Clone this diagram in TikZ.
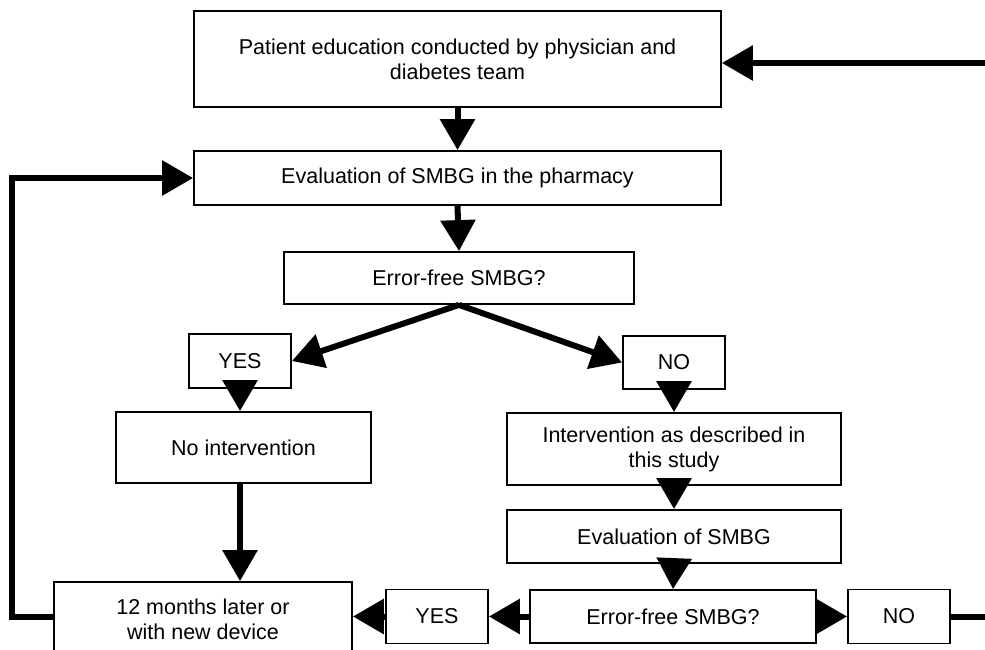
\documentclass[tikz,border=0pt]{standalone}
\usepackage{fontspec}
\setmainfont{Liberation Sans}
\usetikzlibrary{arrows.meta}
\tikzstyle{stepbox} = [rectangle, draw, fill=white, line width=1.8pt, inner sep=0pt, align=center, font=\fontsize{21.5}{25}\selectfont]
\tikzstyle{flow} = [->, line width=6pt]

\begin{document}
\begin{tikzpicture}[x=1pt,y=-1pt,>={Triangle[length=31pt,width=34pt]}]
  \path[use as bounding box, clip] (0,0) rectangle (985,650);

  \node[stepbox, minimum width=527pt, minimum height=96pt] (educ) at (457.5,59) {Patient education conducted by physician and\\diabetes team};
  \node[stepbox, minimum width=527pt, minimum height=54pt] (pharm) at (457.5,178) {Evaluation of SMBG in the pharmacy};
  \node[stepbox, minimum width=350pt, minimum height=52pt] (err1) at (459,278) {Error-free SMBG?};
  \node[stepbox, minimum width=102pt, minimum height=54pt] (yes1) at (240,361) {YES};
  \node[stepbox, minimum width=102pt, minimum height=53pt] (no1) at (674,362.5) {NO};
  \node[stepbox, minimum width=255pt, minimum height=71pt] (noint) at (243.5,447.5) {No intervention};
  \node[stepbox, minimum width=334pt, minimum height=72pt] (interv) at (674,449) {Intervention as described in\\this study};
  \node[stepbox, minimum width=334pt, minimum height=53pt] (eval) at (674,536.5) {Evaluation of SMBG};
  \node[stepbox, minimum width=286pt, minimum height=53pt] (err2) at (673,616.5) {Error-free SMBG?};
  \node[stepbox, minimum width=102pt, minimum height=54pt] (yes2) at (437,616.5) {YES};
  \node[stepbox, minimum width=102pt, minimum height=54pt] (no2) at (899,616.5) {NO};
  \node[stepbox, minimum width=298pt, minimum height=74pt] (later) at (203,619) {12 months later or\\with new device};

  \draw[flow] (educ.south) -- (pharm.north);
  \draw[flow] (pharm.south) -- (err1.north);
  \draw[flow] (err1.south) -- (yes1.east);
  \draw[flow] (err1.south) -- (no1.west);
  \draw[flow] (yes1.south) -- (yes1.south |- noint.north);
  \draw[flow] (noint.south -| yes1.south) -- (yes1.south |- later.north);
  \draw[flow] (no1.south) -- (interv.north);
  \draw[flow] (interv.south) -- (eval.north);
  \draw[flow] (eval.south) -- (err2.north);
  \draw[flow] (err2.west) -- (yes2.east);
  \draw[flow] (yes2.west) -- (yes2.west -| later.east);
  \draw[flow] (err2.east) -- (no2.west);
  \draw[flow] (no2.east) -- ++(80,0) |- ([yshift=-4pt]educ.east);
  \draw[flow] (yes2.west -| later.west) -- ++(-41,0) |- (pharm.west);
\end{tikzpicture}
\end{document}
